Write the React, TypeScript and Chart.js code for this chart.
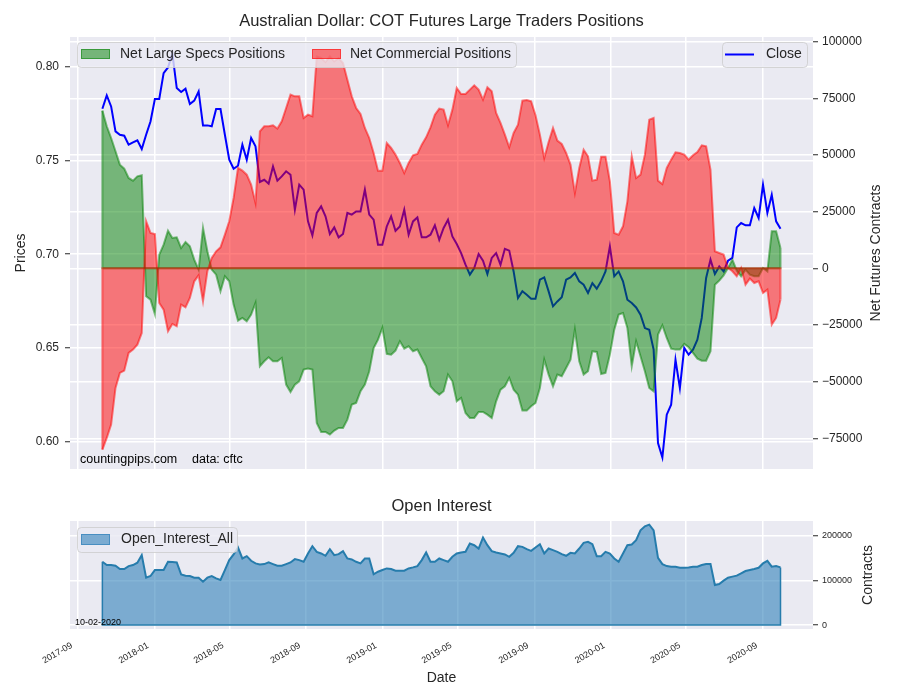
import React, { useEffect, useRef } from 'react';
import { Chart, registerables } from 'chart.js';

Chart.register(...registerables);

// ---------------- data ----------------
const FIRST_REPORT = '2017-10-10';
const AS_OF = '10-02-2020';

const closePrices = [
  0.7776, 0.7847, 0.7788, 0.7655, 0.7637, 0.7632, 0.7584, 0.7596, 0.7607, 0.7561,
  0.7637, 0.7708, 0.7828, 0.7828, 0.7966, 0.7996, 0.8070, 0.7886, 0.7865, 0.7883,
  0.7801, 0.7819, 0.7868, 0.7687, 0.7687, 0.7682, 0.7774, 0.7774, 0.7637, 0.7504,
  0.7456, 0.7472, 0.7584, 0.7504, 0.7620, 0.7575, 0.7385, 0.7397, 0.7376, 0.7468,
  0.7392, 0.7415, 0.7442, 0.7424, 0.7237, 0.7371, 0.7344, 0.7175, 0.7100, 0.7220,
  0.7255, 0.7202, 0.7108, 0.7143, 0.7090, 0.7108, 0.7220, 0.7211, 0.7228, 0.7228,
  0.7344, 0.7211, 0.7184, 0.7051, 0.7051, 0.7148, 0.7202, 0.7125, 0.7148, 0.7237,
  0.7104, 0.7175, 0.7196, 0.7090, 0.7090, 0.7104, 0.7154, 0.7077, 0.7140, 0.7184,
  0.7095, 0.7054, 0.7006, 0.6944, 0.6891, 0.6926, 0.7001, 0.6965, 0.6894, 0.6980,
  0.7006, 0.6944, 0.7029, 0.7019, 0.6908, 0.6766, 0.6802, 0.6784, 0.6763, 0.6763,
  0.6864, 0.6876, 0.6802, 0.6722, 0.6748, 0.6770, 0.6864, 0.6876, 0.6900, 0.6855,
  0.6837, 0.6793, 0.6846, 0.6816, 0.6855, 0.6908, 0.7042, 0.6882, 0.6908, 0.6855,
  0.6757, 0.6740, 0.6716, 0.6677, 0.6606, 0.6597, 0.6491, 0.5993, 0.5916, 0.6144,
  0.6197, 0.6437, 0.6286, 0.6500, 0.6464, 0.6491, 0.6544, 0.6660, 0.6873, 0.6971,
  0.6894, 0.6935, 0.6908, 0.6965, 0.6980, 0.7143, 0.7166, 0.7154, 0.7154, 0.7246,
  0.7193, 0.7371, 0.7220, 0.7317, 0.7175, 0.7136,
];

const netLargeSpecs = [
  69560, 62650, 57500, 51620, 45740, 43970, 39850, 38680, 40590, 41030,
  -12350, -13820, -20150, 6030, 10440, 16620, 13380, 13680, 8970, 11620,
  9710, 3820, -590, 17790, 7500, -590, -2790, -10150, -3530, -5740,
  -16030, -23090, -21910, -23380, -20440, -15290, -43240, -41030, -39260, -41030,
  -41030, -39560, -51320, -54560, -51320, -49850, -44710, -44260, -44710, -68240,
  -72210, -72210, -73380, -71620, -70440, -70440, -66760, -60150, -59410, -54260,
  -51320, -45440, -35150, -31470, -26320, -37790, -38090, -36320, -32210, -35440,
  -34410, -36620, -35880, -39560, -43240, -52060, -54260, -55740, -54260, -46910,
  -49850, -58680, -57210, -63820, -66030, -66030, -63380, -63380, -64560, -66030,
  -58680, -53530, -52060, -48380, -53530, -55740, -62790, -62790, -60880, -59410,
  -52790, -40290, -46910, -52060, -46910, -47650, -43970, -40290, -27060, -41030,
  -46910, -45440, -36620, -36910, -46620, -46180, -38090, -27060, -20440, -19710,
  -26320, -43240, -32210, -38820, -45440, -52790, -54260, -29260, -25150, -30740,
  -35440, -35880, -35880, -33380, -34850, -37350, -39850, -40740, -40740, -36620,
  -7210, -5440, -3090, 150, 3820, -1030, -3530, -590, -2790, -3530,
  -3530, 150, -1320, 16320, 16320, 8970,
];

const netCommercial = [
  -80000, -74850, -68970, -52790, -46180, -45150, -37350, -35880, -33680, -28530,
  20740, 15590, 15150, -15290, -18240, -27790, -24560, -25590, -16030, -17210,
  -13090, -5740, -3090, -14560, -1320, 4560, 7500, 9260, 14850, 20740,
  31030, 44260, 43090, 41320, 36910, 28820, 60440, 62650, 62650, 63090,
  61620, 64850, 70740, 76620, 75880, 75880, 66320, 67790, 67060, 93530,
  92790, 91030, 93530, 91320, 92790, 90590, 83240, 75880, 70740, 68090,
  61910, 57500, 50880, 43090, 43090, 55290, 53090, 50150, 46470, 42060,
  46470, 49850, 50440, 54560, 57790, 62210, 67790, 70440, 70000, 63090,
  70000, 79560, 76910, 76910, 78820, 80740, 78820, 74410, 79850, 78090,
  68530, 64120, 58970, 53380, 59710, 63380, 73970, 74260, 73680, 67500,
  58970, 48680, 55740, 61910, 56320, 54850, 50880, 45740, 33240, 44260,
  52350, 49410, 38680, 39120, 49260, 49260, 38380, 15590, 14850, 18530,
  29560, 49410, 39850, 41320, 50150, 65590, 66320, 38680, 37210, 44260,
  47940, 51180, 50880, 50150, 47940, 49850, 51320, 54260, 53820, 43530,
  7500, 6760, 6030, 150, -1320, -3530, 150, -7210, -4560, -6470,
  -5740, -10880, -9410, -24850, -21910, -13820,
];

const openInterest = [
  142000, 134600, 134600, 133100, 125700, 125700, 132300, 134600, 139800, 156900,
  106300, 110000, 123400, 123400, 123400, 142000, 141300, 140500, 113800, 110800,
  110000, 106300, 106300, 97400, 106300, 110000, 104800, 101100, 123400, 145700,
  158400, 174000, 149400, 154600, 144200, 138300, 136100, 136800, 140500, 136800,
  133100, 133100, 136800, 140500, 148000, 145700, 142000, 160600, 177000, 164300,
  160600, 155400, 170300, 156900, 159100, 165800, 149400, 147200, 142000, 138300,
  149400, 149400, 113800, 119700, 123400, 127100, 125700, 121900, 121900, 121900,
  127100, 129400, 132300, 145700, 162800, 142000, 142000, 149400, 145700, 142000,
  153200, 160600, 162800, 164300, 182900, 179200, 171700, 196300, 179200, 165800,
  162800, 160600, 158400, 153200, 162100, 177000, 175500, 170300, 166500, 174000,
  181400, 160600, 171700, 168000, 164300, 159100, 155400, 162100, 160600, 171700,
  184400, 186600, 181400, 154600, 154600, 164300, 160600, 149400, 142000, 160600,
  179200, 180700, 190300, 212600, 221600, 225300, 212600, 150900, 136800, 132300,
  130900, 130900, 128600, 128600, 129400, 130900, 130900, 134600, 136800, 136800,
  90000, 92200, 99600, 106300, 108600, 110800, 116000, 121200, 123400, 125700,
  128600, 138300, 144200, 130900, 132300, 129400,
];

const xTickMonths = [
  '2017-09', '2018-01', '2018-05', '2018-09', '2019-01', '2019-05',
  '2019-09', '2020-01', '2020-05', '2020-09',
];
const priceTicks = [0.6, 0.65, 0.7, 0.75, 0.8];
const netTicks = [-75000, -50000, -25000, 0, 25000, 50000, 75000, 100000];
const oiTicks = [0, 100000, 200000];

// ---------------- helpers ----------------
const DAY_MS = 86400000;
const ORIGIN = Date.UTC(2017, 8, 1);
const toDay = (iso: string) => {
  const [y, m, d] = iso.split('-').map(Number);
  return (Date.UTC(y, m - 1, d || 1) - ORIGIN) / DAY_MS;
};
const reportDays = closePrices.map((_, i) => toDay(FIRST_REPORT) + 7 * i);
const tickDays = xTickMonths.map((m) => toDay(m));
const X_MIN = -12.8;
const X_MAX = 1176;

const FONT = '"Liberation Sans", Arial, sans-serif';
const TEXT = '#262626';
const BG = '#EAEAF2';
const GREEN = 'rgba(0,128,0,0.5)';
const RED = 'rgba(255,0,0,0.5)';
const BLUE = '#0000ff';
const OI_FILL = 'rgba(31,119,180,0.55)';
const OI_LINE = 'rgb(38,124,172)';
const GRID_W = 1.5;

const fmtNum = (v: number) => (v < 0 ? '\u2212' + Math.abs(v) : String(v));

function legendFrame(ctx: CanvasRenderingContext2D, x: number, y: number, w: number, h: number) {
  ctx.save();
  ctx.beginPath();
  if ((ctx as any).roundRect) (ctx as any).roundRect(x + 0.5, y + 0.5, w, h, 4);
  else ctx.rect(x + 0.5, y + 0.5, w, h);
  ctx.fillStyle = 'rgba(234,234,242,0.8)';
  ctx.fill();
  ctx.strokeStyle = 'rgba(204,204,204,0.8)';
  ctx.lineWidth = 1;
  ctx.stroke();
  ctx.restore();
}

function patch(ctx: CanvasRenderingContext2D, x: number, y: number, w: number, h: number, color: string) {
  ctx.save();
  ctx.fillStyle = color;
  ctx.fillRect(x, y, w, h);
  ctx.strokeStyle = color;
  ctx.lineWidth = 1;
  ctx.strokeRect(x + 0.5, y + 0.5, w - 1, h - 1);
  ctx.restore();
}

function text(ctx: CanvasRenderingContext2D, s: string, x: number, y: number, size: number, opts: any = {}) {
  ctx.save();
  ctx.font = `${size}px ${FONT}`;
  ctx.fillStyle = opts.color || TEXT;
  ctx.textAlign = opts.align || 'left';
  ctx.textBaseline = opts.baseline || 'alphabetic';
  if (opts.rotate) {
    ctx.translate(x, y);
    ctx.rotate(opts.rotate);
    ctx.fillText(s, 0, 0);
  } else {
    ctx.fillText(s, x, y);
  }
  ctx.restore();
}

const bgPlugin = {
  id: 'bgPlugin',
  beforeDraw(chart: any) {
    const { ctx, chartArea: a } = chart;
    ctx.save();
    ctx.fillStyle = BG;
    ctx.fillRect(a.left, a.top, a.right - a.left, a.bottom - a.top);
    ctx.restore();
  },
};

const topDecor = {
  id: 'topDecor',
  afterDatasetsDraw(chart: any) {
    const { ctx, chartArea: a } = chart;
    const x = chart.scales.x;
    const yN = chart.scales.yN;
    const last = reportDays.length - 1;
    const x0 = x.getPixelForValue(reportDays[0]);
    const x1 = x.getPixelForValue(reportDays[last]);
    const z = yN.getPixelForValue(0);
    ctx.save();
    ctx.beginPath();
    ctx.rect(a.left, a.top, a.right - a.left, a.bottom - a.top);
    ctx.clip();
    const sets: [number[], string][] = [[netLargeSpecs, GREEN], [netCommercial, RED]];
    sets.forEach(([vals, col]) => {
      ctx.strokeStyle = col;
      ctx.lineWidth = 2;
      ctx.beginPath();
      ctx.moveTo(x0, yN.getPixelForValue(vals[0]));
      ctx.lineTo(x0, z);
      ctx.lineTo(x1, z);
      ctx.lineTo(x1, yN.getPixelForValue(vals[last]));
      ctx.stroke();
    });
    ctx.restore();
  },
  afterDraw(chart: any) {
    const { ctx, chartArea: a } = chart;
    const cx = (a.left + a.right) / 2;
    const cy = (a.top + a.bottom) / 2;
    text(ctx, 'Australian Dollar: COT Futures Large Traders Positions', cx, 26, 16.5, { align: 'center' });
    text(ctx, 'Prices', 21, cy, 14, { align: 'center', baseline: 'middle', rotate: -Math.PI / 2 });
    text(ctx, 'Net Futures Contracts', 876, cy, 14, { align: 'center', baseline: 'middle', rotate: -Math.PI / 2 });
    text(ctx, 'countingpips.com', 80, 463, 12.5, { color: '#000' });
    text(ctx, 'data: cftc', 192, 463, 12.5, { color: '#000' });

    // legend: net positions
    legendFrame(ctx, 77, 42, 439, 25);
    patch(ctx, 81, 49, 29, 10, GREEN);
    text(ctx, 'Net Large Specs Positions', 120, 54.5, 14, { baseline: 'middle' });
    patch(ctx, 312, 49, 29, 10, RED);
    text(ctx, 'Net Commercial Positions', 350, 54.5, 14, { baseline: 'middle' });

    // legend: close
    legendFrame(ctx, 722, 42, 85, 25);
    ctx.save();
    ctx.strokeStyle = BLUE;
    ctx.lineWidth = 2;
    ctx.beginPath();
    ctx.moveTo(725, 54.5);
    ctx.lineTo(754, 54.5);
    ctx.stroke();
    ctx.restore();
    text(ctx, 'Close', 766, 54.5, 14, { baseline: 'middle' });
  },
};

const bottomDecor = {
  id: 'bottomDecor',
  afterDatasetsDraw(chart: any) {
    const { ctx } = chart;
    const x = chart.scales.x;
    const y = chart.scales.yO;
    const last = reportDays.length - 1;
    const x0 = x.getPixelForValue(reportDays[0]);
    const x1 = x.getPixelForValue(reportDays[last]);
    const z = y.getPixelForValue(0);
    ctx.save();
    ctx.strokeStyle = OI_LINE;
    ctx.lineWidth = 1.5;
    ctx.beginPath();
    ctx.moveTo(x0, y.getPixelForValue(openInterest[0]));
    ctx.lineTo(x0, z);
    ctx.lineTo(x1, z);
    ctx.lineTo(x1, y.getPixelForValue(openInterest[last]));
    ctx.stroke();
    ctx.restore();
  },
  afterDraw(chart: any) {
    const { ctx, chartArea: a } = chart;
    const cx = (a.left + a.right) / 2;
    const cy = (a.top + a.bottom) / 2;
    const x = chart.scales.x;
    text(ctx, 'Open Interest', cx, 31, 16.5, { align: 'center' });
    text(ctx, 'Contracts', 868, cy, 14, { align: 'center', baseline: 'middle', rotate: -Math.PI / 2 });
    text(ctx, 'Date', cx, 202, 14, { align: 'center' });
    text(ctx, AS_OF, 75, 145, 9, { color: '#000' });
    xTickMonths.forEach((m, i) => {
      const px = x.getPixelForValue(tickDays[i]);
      text(ctx, m, px - 5, 167, 9, { align: 'right', rotate: -Math.PI / 6 });
    });
    legendFrame(ctx, 77, 47, 160, 25);
    patch(ctx, 81, 54, 29, 11, OI_FILL);
    text(ctx, 'Open_Interest_All', 121, 59.5, 14, { baseline: 'middle' });
  },
};

function xScale(height: number) {
  return {
    type: 'linear',
    min: X_MIN,
    max: X_MAX,
    afterBuildTicks: (s: any) => {
      s.ticks = tickDays.map((v) => ({ value: v }));
    },
    ticks: { display: false },
    grid: { color: '#ffffff', lineWidth: GRID_W, drawTicks: false },
    border: { display: false },
    afterFit: (s: any) => {
      s.height = height;
    },
  };
}

function yScale(position: string, min: number, max: number, ticks: number[], size: number, padding: number, fmt: (v: number) => string, width: number) {
  return {
    type: 'linear',
    position,
    min,
    max,
    afterBuildTicks: (s: any) => {
      s.ticks = ticks.map((v) => ({ value: v }));
    },
    ticks: {
      color: TEXT,
      padding,
      font: { family: FONT, size, lineHeight: 0.8 },
      callback: (v: any) => fmt(Number(v)),
      autoSkip: false,
    },
    grid: { color: '#ffffff', lineWidth: GRID_W, tickColor: TEXT, tickLength: 5, tickWidth: 1 },
    border: { display: false },
    afterFit: (s: any) => {
      s.width = width;
    },
  };
}

export default function App() {
  const topRef = useRef<HTMLCanvasElement>(null);
  const botRef = useRef<HTMLCanvasElement>(null);

  useEffect(() => {
    Chart.defaults.font.family = FONT;
    const pts = (vals: number[]) => vals.map((v, i) => ({ x: reportDays[i], y: v }));

    const top = new Chart(topRef.current as HTMLCanvasElement, {
      type: 'line',
      data: {
        datasets: [
          {
            label: 'Close',
            data: pts(closePrices),
            yAxisID: 'yP',
            borderColor: BLUE,
            borderWidth: 2,
            pointRadius: 0,
            fill: false,
            tension: 0,
            order: 10,
          },
          {
            label: 'Net Large Specs Positions',
            data: pts(netLargeSpecs),
            yAxisID: 'yN',
            borderColor: GREEN,
            backgroundColor: GREEN,
            borderWidth: 2,
            pointRadius: 0,
            fill: 'origin',
            tension: 0,
            order: 5,
          },
          {
            label: 'Net Commercial Positions',
            data: pts(netCommercial),
            yAxisID: 'yN',
            borderColor: RED,
            backgroundColor: RED,
            borderWidth: 2,
            pointRadius: 0,
            fill: 'origin',
            tension: 0,
            order: 3,
          },
        ],
      } as any,
      options: {
        responsive: false,
        animation: false,
        devicePixelRatio: 1,
        events: [],
        layout: { padding: { top: 37, left: 0, right: 0, bottom: 0 } },
        plugins: { legend: { display: false }, tooltip: { enabled: false }, title: { display: false } },
        scales: {
          x: xScale(11),
          yP: yScale('left', 0.58544, 0.81584, priceTicks, 12, 6, (v) => v.toFixed(2), 70),
          yN: yScale('right', -88550, 102050, netTicks, 12, 4, fmtNum, 87),
        },
      } as any,
      plugins: [bgPlugin, topDecor] as any,
    });

    const bottom = new Chart(botRef.current as HTMLCanvasElement, {
      type: 'line',
      data: {
        datasets: [
          {
            label: 'Open_Interest_All',
            data: pts(openInterest),
            yAxisID: 'yO',
            borderColor: OI_LINE,
            backgroundColor: OI_FILL,
            borderWidth: 2,
            pointRadius: 0,
            fill: 'origin',
            tension: 0,
          },
        ],
      } as any,
      options: {
        responsive: false,
        animation: false,
        devicePixelRatio: 1,
        events: [],
        layout: { padding: { top: 41, left: 70, right: 0, bottom: 0 } },
        plugins: { legend: { display: false }, tooltip: { enabled: false }, title: { display: false } },
        scales: {
          x: xScale(71),
          yO: yScale('right', -8900, 233500, oiTicks, 9, 4, fmtNum, 87),
        },
      } as any,
      plugins: [bgPlugin, bottomDecor] as any,
    });

    return () => {
      top.destroy();
      bottom.destroy();
    };
  }, []);

  return (
    <div style={{ position: 'absolute', left: 0, top: 0, width: 900, height: 700, background: '#ffffff' }}>
      <canvas ref={topRef} width={900} height={480} style={{ position: 'absolute', left: 0, top: 0, width: 900, height: 480 }} />
      <canvas ref={botRef} width={900} height={220} style={{ position: 'absolute', left: 0, top: 480, width: 900, height: 220 }} />
    </div>
  );
}
